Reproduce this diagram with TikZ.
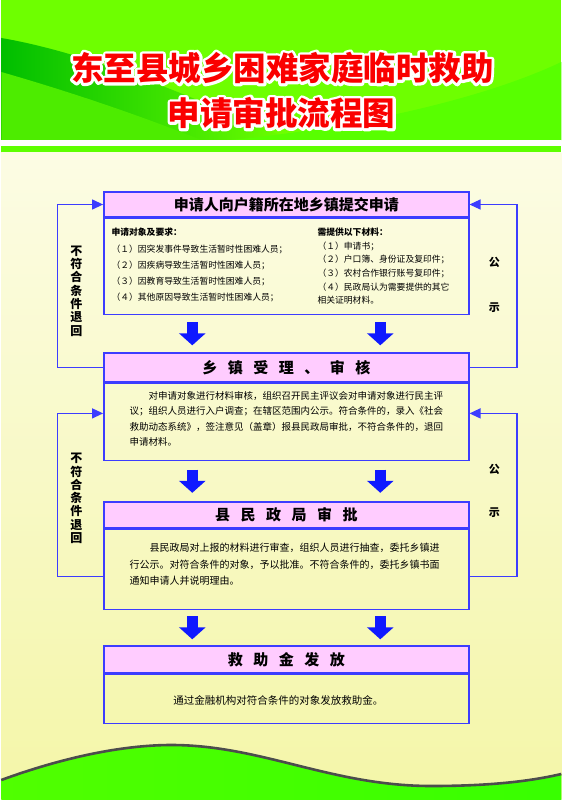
\documentclass[tikz,border=0pt]{standalone}
\usepackage{fontspec}
\newfontfamily\cjk{Noto Sans CJK SC}
\usetikzlibrary{arrows.meta}
\newcommand\hgap{\hspace{10.5pt}}
\newcommand\outlined[1]{\special{pdf:literal direct 2 Tr 5.5 w 1 j}#1\special{pdf:literal direct 0 Tr}}

\begin{document}
\begin{tikzpicture}[x=1pt, y=-1pt, font=\cjk,
		head/.style={draw=boxblue, line width=1.4pt, fill=headpink, minimum width=365pt, inner sep=0pt, font=\cjk\bfseries\fontsize{15}{15}\selectfont},
		body/.style={draw=boxblue, line width=1.4pt, minimum width=365pt, inner sep=0pt},
		fat/.style={draw=arrowblue, line width=11pt, -{Triangle[length=12pt, width=26pt]}},
		back/.style={draw=boxblue, line width=1.2pt, -{Triangle[length=11pt, width=10pt]}},
		side/.style={align=center, inner sep=0pt},
		halo/.style={text=white, font=\cjk\bfseries\fontsize{32.5}{32.5}\selectfont, inner sep=0pt},
		title/.style={text=titlered, font=\cjk\bfseries\fontsize{32.5}{32.5}\selectfont, inner sep=0pt}]
			\definecolor{hdgreen}{RGB}{110, 255, 0}
			\definecolor{swdark}{RGB}{0, 190, 0}
			\definecolor{titlered}{RGB}{250, 0, 0}
			\definecolor{bgtop}{RGB}{252, 252, 228}
			\definecolor{bgbot}{RGB}{244, 246, 168}
			\definecolor{boxblue}{RGB}{60, 60, 255}
			\definecolor{arrowblue}{RGB}{15, 25, 255}
			\definecolor{headpink}{RGB}{255, 204, 255}
			\definecolor{wavegreen}{RGB}{80, 255, 0}
			% background
			\fill[bgbot] (0,0) rectangle (560,800);
			\shade[top color=bgtop, bottom color=bgbot] (0,152) rectangle (560,800);
			\fill[hdgreen] (0,0) rectangle (560,140);
			\shade[left color=swdark, right color=hdgreen] (0,38) .. controls (100,55) and (220,110) .. (290,140) -- (0,140) -- cycle;
			\fill[hdgreen!70!swdark] (0,72) .. controls (80,95) and (150,120) .. (200,140) -- (0,140) -- cycle;
			\fill[hdgreen!80!green] (230,140) .. controls (350,128) and (480,100) .. (560,62) -- (560,140) -- cycle;
			\fill[white] (0,140) rectangle (560,146);
			\fill[hdgreen!85!green] (0,146) rectangle (560,152);
			% bottom wave
			\shade[left color=wavegreen, right color=wavegreen!70!green] (0,780) .. controls (60,758) and (120,745) .. (170,745) .. controls (260,745) and (330,786) .. (430,786) .. controls (490,786) and (530,781) .. (560,774) -- (560,800) -- (0,800) -- cycle;
			\draw[black!70, line width=2.6pt] (0,780) .. controls (60,758) and (120,745) .. (170,745) .. controls (260,745) and (330,786) .. (430,786) .. controls (490,786) and (530,781) .. (560,774);
			% title
			\node[halo] (halo1) at (281,68) {\outlined{东至县城乡困难家庭临时救助}};
			\node[halo] (halo2) at (280,113) {\outlined{申请审批流程图}};
			\node[title] (title1) at (281,68) {东至县城乡困难家庭临时救助};
			\node[title] (title2) at (280,113) {申请审批流程图};
			% boxes
			\node[head, minimum height=25pt] (h1) at (285,204.5) {申请人向户籍所在地乡镇提交申请};
			\node[body, minimum height=96pt, anchor=north] (b1) at (h1.south) {};
			\node[head, minimum height=29pt] (h2) at (285,367.5) {乡\hgap 镇\hgap 受\hgap 理\hgap 、\hgap 审\hgap 核};
			\node[body, minimum height=77pt, anchor=north] (b2) at (h2.south) {};
			\node[head, minimum height=26pt] (h3) at (285,515) {县\hgap 民\hgap 政\hgap 局\hgap 审\hgap 批};
			\node[body, minimum height=80pt, anchor=north] (b3) at (h3.south) {};
			\node[head, minimum height=27pt] (h4) at (285,659.5) {救\hgap 助\hgap 金\hgap 发\hgap 放};
			\node[body, minimum height=49pt, anchor=north] (b4) at (h4.south) {};
			% box texts
			\node[anchor=north west, align=left, inner sep=0pt, font=\cjk\fontsize{8.8}{16.3}\selectfont] (who) at (110,228)
				{\textbf{申请对象及要求：}\\（１）因突发事件导致生活暂时性困难人员；\\（２）因疾病导致生活暂时性困难人员；\\（３）因教育导致生活暂时性困难人员；\\（４）其他原因导致生活暂时性困难人员；};
			\node[anchor=north west, align=left, inner sep=0pt, font=\cjk\fontsize{8.8}{13.6}\selectfont] (docs) at (316,228)
				{\textbf{需提供以下材料：}\\（１）申请书；\\（２）户口簿、身份证及复印件；\\（３）农村合作银行账号复印件；\\（４）民政局认为需要提供的其它\\相关证明材料。};
			\node[anchor=north west, align=left, inner sep=0pt, font=\cjk\fontsize{9.5}{15.5}\selectfont] (check) at (128,391)
				{\hspace*{19pt}对申请对象进行材料审核，组织召开民主评议会对申请对象进行民主评\\议；组织人员进行入户调查；在辖区范围内公示。符合条件的，录入《社会\\救助动态系统》，签注意见（盖章）报县民政局审批，不符合条件的，退回\\申请材料。};
			\node[anchor=north west, align=left, inner sep=0pt, font=\cjk\fontsize{10}{16.5}\selectfont] (approve) at (128,543)
				{\hspace*{20pt}县民政局对上报的材料进行审查，组织人员进行抽查，委托乡镇进\\行公示。对符合条件的对象，予以批准。不符合条件的，委托乡镇书面\\通知申请人并说明理由。};
			\node[inner sep=0pt, font=\cjk\fontsize{10.5}{12}\selectfont] (pay) at (277,700) {通过金融机构对符合条件的对象发放救助金。};
			% down arrows
			\foreach \a/\b/\s in {b1/h2/7, b2/h3/8.5, b3/h4/6}
				\foreach \dx in {-94,94}
					\draw[fat, shorten <=\s pt, shorten >=\s pt] ([xshift=\dx pt]\a.south) -- ([xshift=\dx pt]\a.south |- \b.north);
			% feedback loops
			\draw[back] (h2.west) -- ++(-45.5,0) |- (h1.west);
			\draw[back] (h2.east) -- ++(47.5,0) |- (h1.east);
			\draw[back] ([yshift=-7pt]b3.west) -- ++(-45.5,0) |- ([yshift=8.5pt]b2.west);
			\draw[back] ([yshift=-7pt]b3.east) -- ++(47.5,0) |- ([yshift=8.5pt]b2.east);
			\node[side, font=\cjk\bfseries\fontsize{12}{13.3}\selectfont] (back1) at (75,291) {不\\符\\合\\条\\件\\退\\回};
			\node[side, font=\cjk\bfseries\fontsize{12}{13.3}\selectfont] (back2) at (75,498.5) {不\\符\\合\\条\\件\\退\\回};
			\node[side, font=\cjk\bfseries\fontsize{11}{45}\selectfont] (pub1) at (493,284.5) {公\\示};
			\node[side, font=\cjk\bfseries\fontsize{11}{43}\selectfont] (pub2) at (493,490.5) {公\\示};
		\end{tikzpicture}
\end{document}
